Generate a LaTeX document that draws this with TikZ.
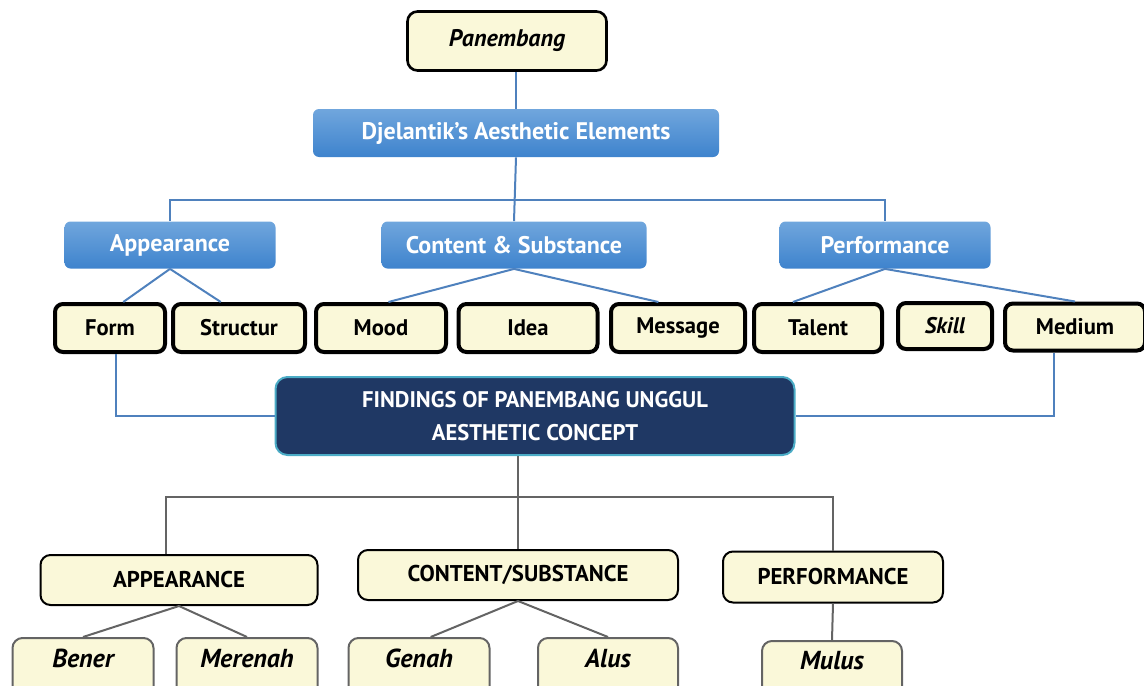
\documentclass[tikz,border=0pt]{standalone}
\usepackage{fontspec}
\setmainfont{PT Sans}
\definecolor{cream}{RGB}{250,248,217}
\definecolor{bluetop}{RGB}{112,166,221}
\definecolor{bluebot}{RGB}{62,131,205}
\definecolor{blueline}{RGB}{79,129,189}
\definecolor{navy}{RGB}{31,56,100}
\definecolor{navyrim}{RGB}{75,172,198}
\definecolor{greyline}{RGB}{100,100,100}
\begin{document}
\begin{tikzpicture}[x=0.5pt,y=-0.5pt,
  size/.style 2 args={minimum width=#1*0.5pt,minimum height=#2*0.5pt,inner sep=0pt,align=center},
  topbox/.style={draw=black,line width=1.3pt,fill=cream,rounded corners=5pt,font=\fontsize{12}{14}\selectfont\bfseries\itshape},
  bluebox/.style={top color=bluetop,bottom color=bluebot,draw=none,rounded corners=3pt,text=white,font=\fontsize{12}{14}\selectfont\bfseries},
  rowbox/.style={draw=black,line width=2pt,fill=cream,rounded corners=4pt,font=\fontsize{11.3}{13}\selectfont\bfseries},
  findbox/.style={fill=navy,draw=navyrim,line width=1pt,rounded corners=6pt,text=white,font=\fontsize{11.3}{16.5}\selectfont\bfseries},
  midbox/.style={draw=black,line width=1pt,fill=cream,rounded corners=5pt,font=\fontsize{11.4}{13}\selectfont\bfseries},
  leafbox/.style={draw=greyline,line width=1pt,fill=cream,rounded corners=5pt,text height=8.5pt,text depth=10pt,font=\fontsize{13}{15}\selectfont\bfseries\itshape},
  blue/.style={draw=blueline,line width=1pt},
  grey/.style={draw=greyline,line width=1pt}]
  \useasboundingbox (0,0) rectangle (1144,685);

  \node[topbox,size={199}{59}] (pan) at (507,41) {Panembang};
  \node[bluebox,size={406}{48}] (djel) at (516,133) {Djelantik’s Aesthetic Elements};
  \node[bluebox,size={211}{47}] (app) at (170,245) {Appearance};
  \node[bluebox,size={265}{47}] (cont) at (514,245) {Content \& Substance};
  \node[bluebox,size={211}{47}] (perf) at (885,245) {Performance};

  \node[rowbox,size={110}{48}] (form) at (110,328) {Form};
  \node[rowbox,size={132}{48}] (struct) at (239,328) {Structur};
  \node[rowbox,size={130}{48}] (mood) at (381,328) {Mood};
  \node[rowbox,size={139}{48}] (idea) at (528,328) {Idea};
  \node[rowbox,size={134}{48}] (message) at (678,328) {Message};
  \node[rowbox,size={128}{48}] (talent) at (818,328) {Talent};
  \node[rowbox,size={94}{46},font=\fontsize{11.3}{13}\selectfont\bfseries\itshape] (skill) at (945,326) {Skill};
  \node[rowbox,size={140}{47}] (medium) at (1075,327) {Medium};

  \node[findbox,size={519}{78}] (find) at (535,416) {FINDINGS OF PANEMBANG UNGGUL\\AESTHETIC CONCEPT};

  \node[midbox,size={277}{50}] (ap2) at (179,580) {APPEARANCE};
  \node[midbox,size={320}{50}] (cs2) at (518,575) {CONTENT/SUBSTANCE};
  \node[midbox,size={220}{51}] (pf2) at (833,577) {PERFORMANCE};

  \node[leafbox,size={141}{62}] (bener) at (83,669) {Bener};
  \node[leafbox,size={141}{62}] (merenah) at (247,669) {Merenah};
  \node[leafbox,size={141}{62}] (genah) at (419,669) {Genah};
  \node[leafbox,size={140}{62}] (alus) at (608,669) {Alus};
  \node[leafbox,size={140}{60}] (mulus) at (832,671) {Mulus};

  \coordinate (split) at (513,200);
  \coordinate (split2) at (516,497);
  \draw[blue] (djel.north |- pan.south) -- (djel.north);
  \draw[blue] (djel.south) -- (cont.north);
  \draw[blue] (app.north) |- (split) -| (perf.north);
  \draw[blue] (app.south) -- (form.63);
  \draw[blue] (app.south) -- (struct.125);
  \draw[blue] (cont.south) -- (mood.74);
  \draw[blue] (cont.south) -- (message.127);
  \draw[blue] (perf.south) -- (talent.134);
  \draw[blue] (perf.south) -- (medium.north);
  \draw[blue] (form.-76) |- (find.west);
  \draw[blue] (medium.-130) |- (find.east);

  \draw[grey] (cs2.north |- find.south) -- (cs2.north);
  \draw[grey] (ap2.117) |- (split2) -| (pf2.north);
  \draw[grey] (ap2.south) -- (bener.north);
  \draw[grey] (ap2.south) -- (merenah.north);
  \draw[grey] (cs2.south) -- (genah.70);
  \draw[grey] (cs2.south) -- (alus.north);
  \draw[grey] (pf2.south) -- (mulus.north);
\end{tikzpicture}
\end{document}
